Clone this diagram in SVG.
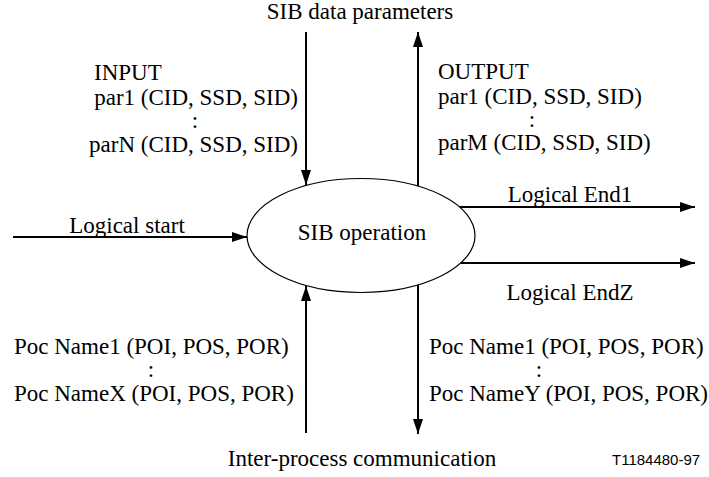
<svg xmlns="http://www.w3.org/2000/svg" width="709" height="477" viewBox="0 0 709 477">
<style>
.t{font-family:"Liberation Serif","Times New Roman",serif;font-size:23px;fill:#000}
.s{font-family:"Liberation Sans",Arial,sans-serif;font-size:15px;fill:#000}
.c{stroke:#000;stroke-width:2;fill:none}
</style>
<defs>
<marker id="ah" markerUnits="userSpaceOnUse" markerWidth="15" markerHeight="10" refX="15" refY="5" orient="auto" viewBox="0 0 15 10">
<path d="M0,0 L15,5 L0,10 z" fill="#000"/>
</marker>
</defs>
<rect width="709" height="477" fill="#fff"/>
<g id="connectors">
<line class="c" x1="306" y1="32" x2="306" y2="185" marker-end="url(#ah)"/>
<line class="c" x1="418" y1="186" x2="418" y2="32" marker-end="url(#ah)"/>
<line class="c" x1="13" y1="237" x2="247" y2="237" marker-end="url(#ah)"/>
<line class="c" x1="460" y1="207" x2="695" y2="207" marker-end="url(#ah)"/>
<line class="c" x1="461" y1="263" x2="695" y2="263" marker-end="url(#ah)"/>
<line class="c" x1="306" y1="433" x2="306" y2="286" marker-end="url(#ah)"/>
<line class="c" x1="418" y1="285" x2="418" y2="434" marker-end="url(#ah)"/>
</g>
<g id="sib-operation">
<ellipse cx="361" cy="235.5" rx="114" ry="57" fill="none" stroke="#000" stroke-width="1.2"/>
<text class="t" x="362" y="240" text-anchor="middle">SIB operation</text>
</g>
<g id="sib-data-parameters">
<text class="t" x="360" y="19" text-anchor="middle">SIB data parameters</text>
</g>
<g id="input">
<text class="t" x="94" y="80">INPUT</text>
<text class="t" x="298" y="105" text-anchor="end">par1 (CID, SSD, SID)</text>
<text class="t" x="195" y="128" text-anchor="middle">:</text>
<text class="t" x="298" y="152" text-anchor="end">parN (CID, SSD, SID)</text>
</g>
<g id="output">
<text class="t" x="438" y="79">OUTPUT</text>
<text class="t" x="438" y="104">par1 (CID, SSD, SID)</text>
<text class="t" x="532" y="127" text-anchor="middle">:</text>
<text class="t" x="438" y="150">parM (CID, SSD, SID)</text>
</g>
<g id="logical-start">
<text class="t" x="127" y="233" text-anchor="middle">Logical start</text>
</g>
<g id="logical-end1">
<text class="t" x="570" y="202" text-anchor="middle">Logical End1</text>
</g>
<g id="logical-endz">
<text class="t" x="570" y="300" text-anchor="middle">Logical EndZ</text>
</g>
<g id="poc-in">
<text class="t" x="14" y="354">Poc Name1 (POI, POS, POR)</text>
<text class="t" x="151" y="377" text-anchor="middle">:</text>
<text class="t" x="14" y="401">Poc NameX (POI, POS, POR)</text>
</g>
<g id="poc-out">
<text class="t" x="429" y="354">Poc Name1 (POI, POS, POR)</text>
<text class="t" x="539" y="377" text-anchor="middle">:</text>
<text class="t" x="429" y="401">Poc NameY (POI, POS, POR)</text>
</g>
<g id="inter-process">
<text class="t" x="362" y="466" text-anchor="middle">Inter-process communication</text>
</g>
<text class="s" x="612" y="465">T1184480-97</text>
</svg>
